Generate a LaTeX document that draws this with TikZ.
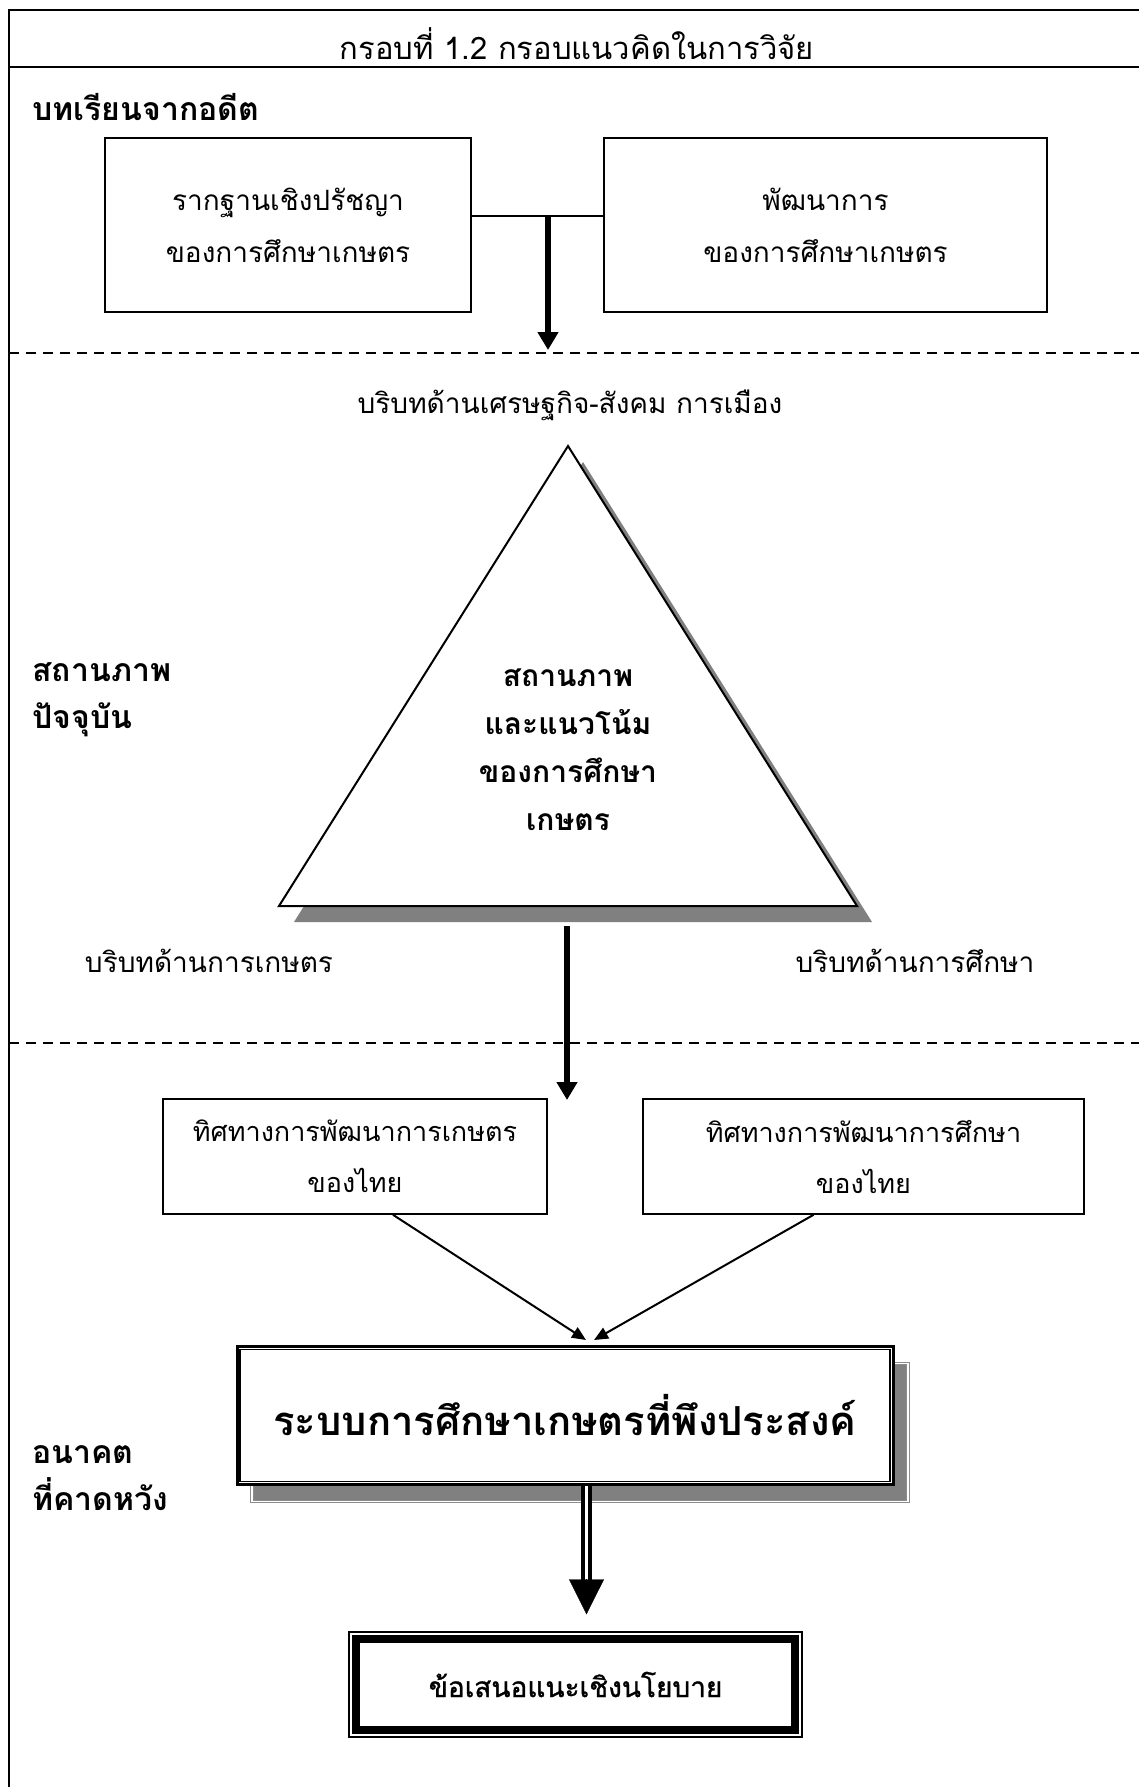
\documentclass[tikz,border=0pt]{standalone}
\usepackage{fontspec}
\newfontfamily\thaifont[Script=Thai]{Loma}
\newfontfamily\thaimid[Script=Thai,FakeBold=1.2]{Loma}
\usetikzlibrary{arrows.meta}
\usetikzlibrary{shadows}

\newcommand{\thaitext}{\thaifont\fontsize{14}{26}\selectfont}
\newcommand{\thaibold}{\thaifont\bfseries\fontsize{15}{24}\selectfont}
\newcommand{\thaiside}{\thaifont\bfseries\fontsize{16}{23.5}\selectfont}
\newcommand{\thaibig}{\thaifont\bfseries\fontsize{20}{24}\selectfont}

\tikzset{
  tbox/.style={draw, line width=0.8pt, fill=white, align=center, font=\thaitext},
  side/.style={anchor=west, align=left, inner sep=0pt, font=\thaiside},
  ctx/.style={font=\thaitext},
  bigarrow/.style={line width=3pt, -{Triangle[length=9pt,width=10pt]}},
  thinarrow/.style={line width=1pt, -{Triangle[length=7pt,width=6pt]}},
  sep/.style={dash pattern=on 5pt off 3.5pt, line width=1.3pt},
  shade/.style={drop shadow={shadow xshift=7.5pt, shadow yshift=-8pt, fill=black!50, opacity=1}},
}

\begin{document}
\begin{tikzpicture}[x=0.5pt, y=-0.5pt]
\path[use as bounding box, clip] (0,0) rectangle (1139,1787);
% frame and title
\draw[line width=1pt] (9,1800) -- (9,10) -- (1150,10);
\draw[line width=1pt] (9,67) -- (1150,67);
\node[anchor=base, font=\thaifont\fontsize{15.5}{18}\selectfont] (title) at (577,60) {กรอบที่ 1.2 กรอบแนวคิดในการวิจัย};

% past
\node[side, font=\thaifont\bfseries\fontsize{16}{20}\selectfont] (past) at (32,107) {บทเรียนจากอดีต};
\node[tbox, minimum width=183pt, minimum height=87pt] (phil) at (288,225) {รากฐานเชิงปรัชญา\\ของการศึกษาเกษตร};
\node[tbox, minimum width=221.5pt, minimum height=87pt] (dev) at (825.5,225) {พัฒนาการ\\ของการศึกษาเกษตร};
\coordinate (join) at (548,216);
\coordinate (tip1) at (548,350);
\draw[line width=1pt] (phil.east |- join) -- (dev.west |- join);
\draw[bigarrow] (join) -- (tip1);
\draw[sep] (9,353) -- (1139,353);

% present
\node[ctx] (econ) at (570,405) {บริบทด้านเศรษฐกิจ-สังคม การเมือง};
\coordinate (apex) at (568,446);
\coordinate (bl) at (279,906);
\coordinate (br) at (857,906);
\draw[line width=1pt, fill=white, shade] (apex) -- (bl) -- (br) -- cycle;
\node[align=center, font=\thaibold] (status) at (568,750) {สถานภาพ\\และแนวโน้ม\\ของการศึกษา\\เกษตร};
\node[side] (now) at (32,700) {สถานภาพ\\ปัจจุบัน};
\node[ctx] (agri) at (209,961) {บริบทด้านการเกษตร};
\node[ctx] (edu) at (915,961) {บริบทด้านการศึกษา};
\coordinate (base) at (567,926);
\coordinate (tip2) at (567,1100);
\draw[bigarrow] (base) -- (tip2);
\draw[sep] (9,1043) -- (1139,1043);

% future
\node[tbox, font=\thaifont\fontsize{13.5}{25.5}\selectfont, minimum width=192pt, minimum height=57.5pt] (dirA) at (355,1156.5) {ทิศทางการพัฒนาการเกษตร\\ของไทย};
\node[tbox, font=\thaifont\fontsize{13.5}{25.5}\selectfont, minimum width=220.5pt, minimum height=57.5pt] (dirB) at (863.5,1156.5) {ทิศทางการพัฒนาการศึกษา\\ของไทย};
\node[draw, line width=1.5pt, fill=white,
  drop shadow={shadow xshift=7.5pt, shadow yshift=-8.5pt, fill=black!50, draw=black!45, double=white, line width=0.5pt, double distance=0.6pt, opacity=1},
  minimum width=328pt, minimum height=69pt, font=\thaibig] (sys) at (565,1415.5) {ระบบการศึกษาเกษตรที่พึงประสงค์};
\draw[line width=0.75pt] ([shift={(4.5,4.5)}]sys.north west) rectangle ([shift={(-4.5,-4.5)}]sys.south east);
\draw[thinarrow] ([xshift=19pt]dirA.south) -- ([xshift=10.5pt,yshift=2.5pt]sys.north);
\draw[thinarrow] ([xshift=-25pt]dirB.south) -- ([xshift=14.5pt,yshift=2.5pt]sys.north);
\node[side] (future) at (32,1478) {อนาคต\\ที่คาดหวัง};

\node[draw, line width=0.6pt, fill=white, minimum width=226.5pt, minimum height=52.5pt, font=\thaimid\fontsize{14}{20}\selectfont] (pol) at (575.5,1684.5) {ข้อเสนอแนะเชิงนโยบาย};
\draw[line width=4.25pt] ([shift={(7.5,7.5)}]pol.north west) rectangle ([shift={(-7.5,-7.5)}]pol.south east);
\draw[double, line width=2pt, double distance=1.2pt] ([xshift=10.75pt]sys.south) -- ([xshift=5.5pt,yshift=25pt]pol.north);
\draw[line width=0.1pt, -{Triangle[length=17.5pt,width=17.5pt]}] ([xshift=5.5pt,yshift=25.5pt]pol.north) -- ([xshift=5.5pt,yshift=8.5pt]pol.north);
\end{tikzpicture}
\end{document}
